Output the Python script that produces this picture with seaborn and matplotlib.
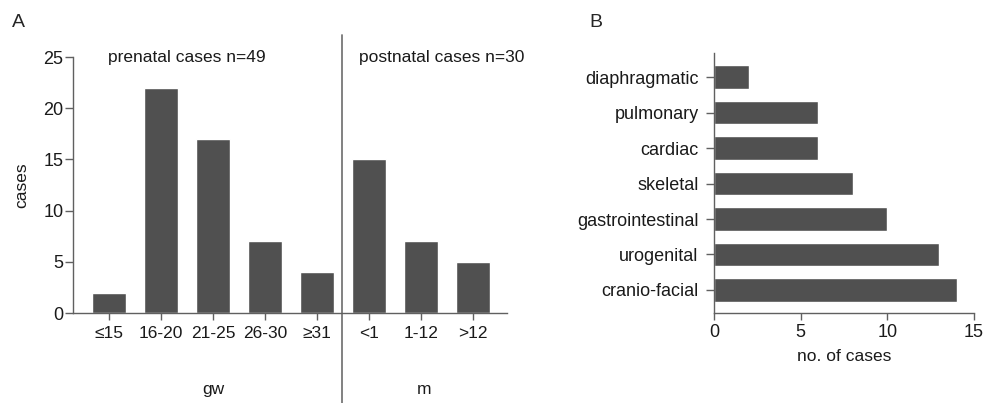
import matplotlib
matplotlib.use("Agg")
import matplotlib.pyplot as plt
import seaborn as sns
import pandas as pd

# panel A: cases by age at diagnosis
age_groups = ["≤15", "16-20", "21-25", "26-30", "≥31", "<1", "1-12", ">12"]
age_cases = [2, 22, 17, 7, 4, 15, 7, 5]

# panel B: affected organ systems
organs = ["diaphragmatic", "pulmonary", "cardiac", "skeletal",
          "gastrointestinal", "urogenital", "cranio-facial"]
organ_cases = [2, 6, 6, 8, 10, 13, 14]

BAR = "#505050"
AXC = "#606060"
TXT = "#1a1a1a"

sns.set_style("ticks")
plt.rcParams["font.family"] = ["Liberation Sans", "DejaVu Sans"]
plt.rcParams["axes.edgecolor"] = AXC
plt.rcParams["axes.linewidth"] = 1.0
plt.rcParams["xtick.color"] = AXC
plt.rcParams["ytick.color"] = AXC
plt.rcParams["xtick.labelcolor"] = TXT
plt.rcParams["ytick.labelcolor"] = TXT

fig = plt.figure(figsize=(9.87, 4.03), dpi=100)

# ---- Panel A
axA = fig.add_axes([0.074, 0.2233, 0.4397, 0.635])
dfA = pd.DataFrame({"group": age_groups, "cases": age_cases})
sns.barplot(data=dfA, x="group", y="cases", color=BAR, saturation=1,
            width=0.66, ax=axA)
axA.set_xlim(-0.69, 7.65)
axA.set_ylim(0, 25)
axA.set_yticks([0, 5, 10, 15, 20, 25])
axA.set_xlabel("")
axA.set_ylabel("cases", fontsize=12.5, color=TXT, labelpad=10)
axA.tick_params(axis="y", length=6, width=1, labelsize=13, pad=1)
axA.tick_params(axis="x", length=5, width=1, labelsize=12.5, pad=4)
sns.despine(ax=axA)
axA.axvline(4.48, ymin=-0.352, ymax=1.086, clip_on=False, color="#777777", lw=1.3)
axA.text(1.5, 25, "prenatal cases n=49", ha="center", va="center", fontsize=12.5, color=TXT)
axA.text(6.4, 25, "postnatal cases n=30", ha="center", va="center", fontsize=12.5, color=TXT)
axA.text(2.0, -7.5, "gw", ha="center", va="center", fontsize=12.5, color=TXT)
axA.text(6.05, -7.5, "m", ha="center", va="center", fontsize=12.5, color=TXT)

# ---- Panel B
axB = fig.add_axes([0.7234, 0.2233, 0.2634, 0.645])
dfB = pd.DataFrame({"organ": organs, "cases": organ_cases})
sns.barplot(data=dfB, x="cases", y="organ", color=BAR, saturation=1,
            width=0.66, orient="h", ax=axB)
axB.set_xlim(0, 15)
axB.set_ylim(6.65, -0.68)
axB.set_xticks([0, 5, 10, 15])
axB.set_ylabel("")
axB.set_xlabel("no. of cases", fontsize=12.5, color=TXT, labelpad=6)
axB.tick_params(axis="y", length=6, width=1, labelsize=13, pad=5)
axB.tick_params(axis="x", length=5, width=1, labelsize=13, pad=3)
sns.despine(ax=axB)

fig.text(0.012, 0.945, "A", fontsize=14, ha="left", va="center")
fig.text(0.597, 0.945, "B", fontsize=14, ha="left", va="center")

fig.savefig("out.png", dpi=100)
